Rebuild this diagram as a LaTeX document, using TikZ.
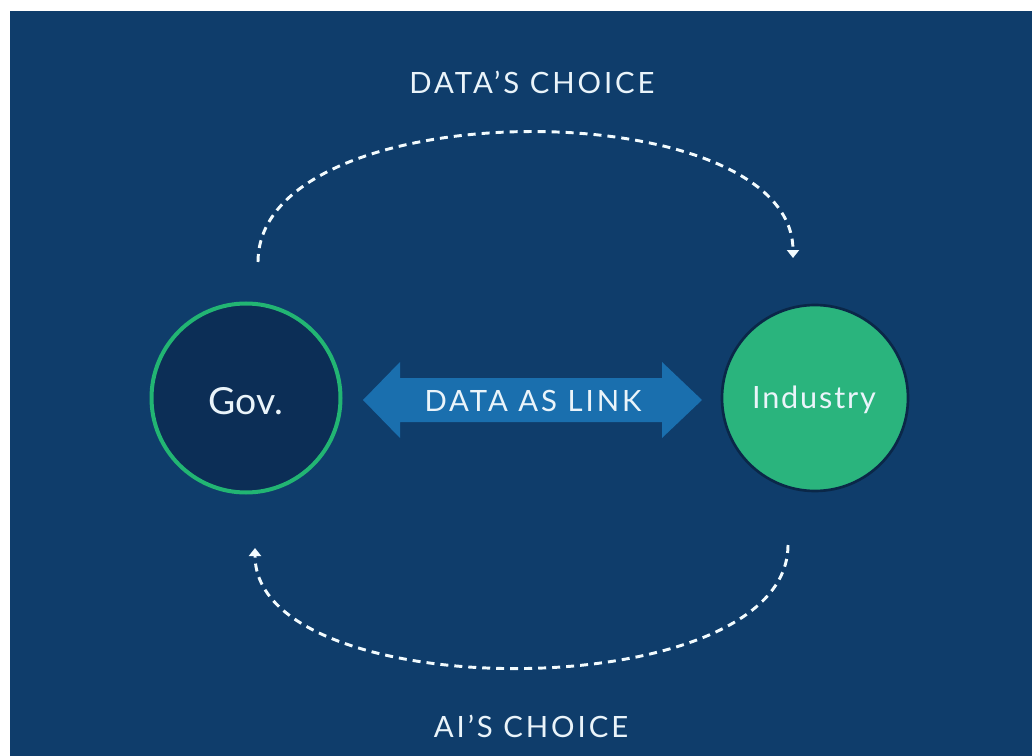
\documentclass[tikz,border=0pt]{standalone}
\usepackage{fontspec}
\setmainfont{Lato}
\usetikzlibrary{arrows.meta}
\definecolor{bg}{HTML}{0F3D6B}
\definecolor{govfill}{HTML}{0C2E56}
\definecolor{grn}{HTML}{2AB47D}
\definecolor{ringgrn}{HTML}{22B573}
\definecolor{linkblue}{HTML}{1A6FAE}
\definecolor{txt}{HTML}{EAF4FA}
\definecolor{darkring}{HTML}{0A2748}
\begin{document}
\begin{tikzpicture}[x=0.75pt,y=-0.75pt,
  lbl/.style={text=txt,inner sep=0pt,anchor=base},
  caps/.style={lbl,font=\fontsize{#1}{#1}\selectfont\addfontfeatures{LetterSpace=10}},
  dashline/.style={draw=white!95!cyan,line width=2.2pt,dash pattern=on 6pt off 4.5pt,
     -{Triangle[width=9pt,length=6pt]}}]
\useasboundingbox (0,0) rectangle (1032,756);
\fill[white] (0,0) rectangle (1032,756);
\fill[bg] (10,11) rectangle (1032,756);
% circles
\node[circle,draw=ringgrn,fill=govfill,line width=3pt,minimum size=189pt*0.75,inner sep=0pt] (gov) at (246,398) {};
\node[circle,draw=darkring,fill=grn,line width=2pt,minimum size=186pt*0.75,inner sep=0pt] (ind) at (815,398) {};
\node[lbl,font=\fontsize{28}{28}\selectfont] (govt) at (246,414) {Gov.};
\node[lbl,font=\fontsize{23}{23}\selectfont\addfontfeatures{LetterSpace=6}] (indt) at (814,408) {Industry};
% double arrow
\fill[linkblue] (363,400) -- (400,362) -- (400,378) -- (662,378) -- (662,362) -- (702,400)
  -- (662,438) -- (662,422) -- (400,422) -- (400,438) -- cycle;
\node[caps=22] (link) at (533,411) {DATA AS LINK};
% titles
\node[caps=22] (top) at (532,94) {DATA’S CHOICE};
\node[caps=22] (bot) at (531,737) {AI’S CHOICE};
% dashed arcs
\coordinate (a1) at (258,262);
\coordinate (a2) at (793,258);
\coordinate (b1) at (788,545);
\coordinate (b2) at (255,548);
\draw[dashline] (a1) .. controls (258,90) and (793,90) .. (a2);
\draw[dashline] (b1) .. controls (788,708) and (255,708) .. (b2);
\end{tikzpicture}
\end{document}
